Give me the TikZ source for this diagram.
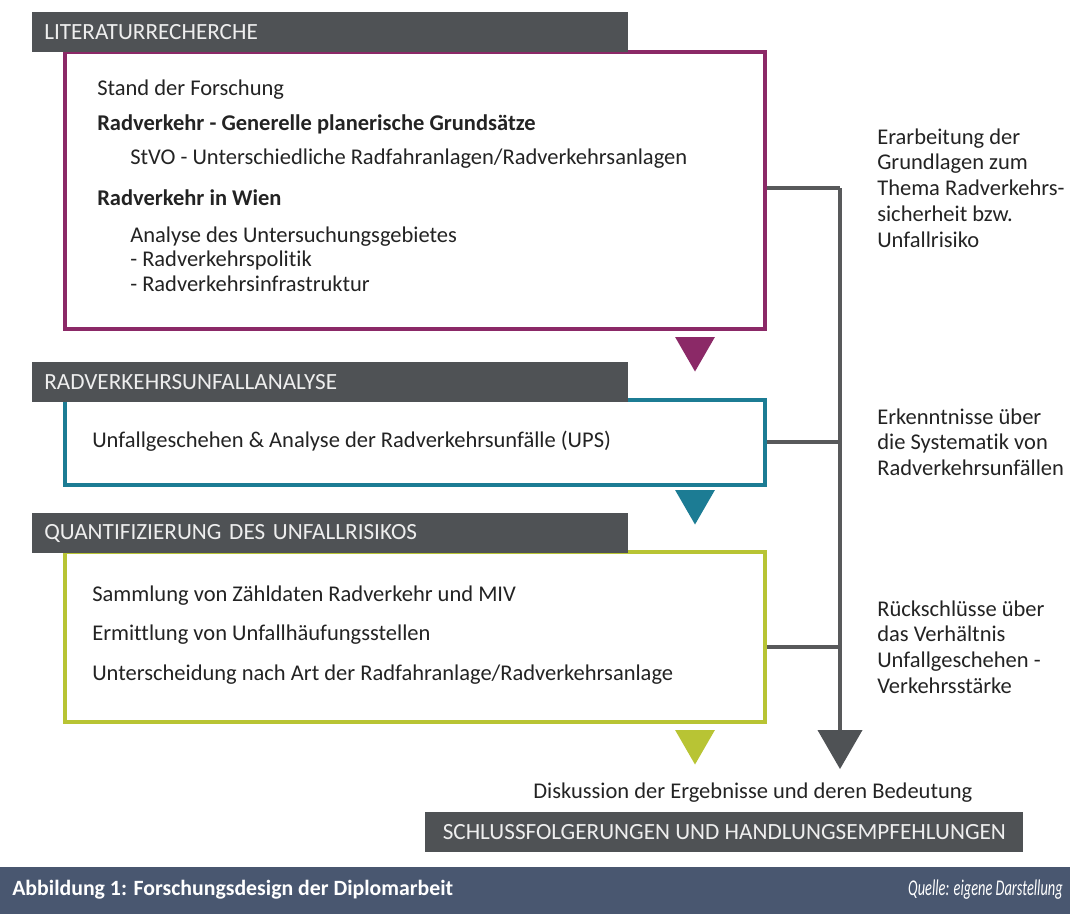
\documentclass[tikz,border=0pt]{standalone}
\usepackage{fontspec}
\setmainfont{Carlito}[Ligatures=NoCommon]
\usetikzlibrary{shapes.geometric}
\definecolor{lila}{RGB}{139,41,103}
\definecolor{petrol}{RGB}{28,124,148}
\definecolor{gelbgruen}{RGB}{184,196,52}
\definecolor{balken}{RGB}{79,82,85}
\definecolor{linie}{RGB}{88,89,91}
\definecolor{fuss}{RGB}{73,87,112}
\definecolor{schrift}{RGB}{35,35,35}
\definecolor{hell}{RGB}{238,238,238}
\begin{document}
\begin{tikzpicture}[x=0.025cm, y=-0.025cm,
    kasten/.style={draw=#1, line width=2.9pt, fill=white, minimum width=17.5cm, anchor=north west, inner sep=0},
    kopf/.style={fill=balken, text=hell, anchor=north west, minimum height=1cm, text width=14.3cm, inner xsep=0.3cm, inner ysep=0, align=left, font=\fontsize{16.5}{19}\selectfont},
    zeile/.style={anchor=base west, inner sep=0, text=schrift, font=\fontsize{16}{18.5}\selectfont},
    fett/.style={zeile, font=\fontsize{16}{18.5}\selectfont\bfseries},
    notiz/.style={anchor=west, inner sep=0, text=schrift, align=left, font=\fontsize{16}{18.3}\selectfont},
    pfeil/.style={regular polygon, regular polygon sides=3, shape border rotate=180, fill=#1, inner sep=0, minimum size=1.15cm},
    ast/.style={draw=linie, line width=2.8pt}]
        \useasboundingbox (0,0) rectangle (1070,914);
        \node[kasten=lila, minimum height=6.925cm] (box1) at (63,50) {};
        \node[kasten=petrol, minimum height=2.125cm] (box2) at (63,398) {};
        \node[kasten=gelbgruen, minimum height=4.25cm] (box3) at (63,550) {};
        \node[kopf] (kopf1) at (32,12) {LITERATURRECHERCHE};
        \node[kopf] (kopf2) at (32,362) {RADVERKEHRSUNFALLANALYSE};
        \node[kopf] (kopf3) at (32,513) {QUANTIFIZIERUNG DES UNFALLRISIKOS};
        \node[zeile] (stand) at (97,95) {Stand der Forschung};
        \node[fett] (grundsaetze) at (97,130) {Radverkehr - Generelle planerische Grundsätze};
        \node[zeile] (stvo) at (130,164) {StVO - Unterschiedliche Radfahranlagen/Radverkehrsanlagen};
        \node[fett] (wien) at (97,205) {Radverkehr in Wien};
        \node[zeile] (analyse) at (130,242) {Analyse des Untersuchungsgebietes};
        \node[zeile] (politik) at (130,266) {- Radverkehrspolitik};
        \node[zeile] (infra) at (130,291) {- Radverkehrsinfrastruktur};
        \node[zeile] (ups) at (92,447) {Unfallgeschehen \& Analyse der Radverkehrsunfälle (UPS)};
        \node[zeile] (zaehl) at (92,601) {Sammlung von Zähldaten Radverkehr und MIV};
        \node[zeile] (uhs) at (92,640) {Ermittlung von Unfallhäufungsstellen};
        \node[zeile] (art) at (92,680) {Unterscheidung nach Art der Radfahranlage/Radverkehrsanlage};
        \node[pfeil=lila] (p1) at (695,348.5) {};
        \node[pfeil=petrol] (p2) at (695,501.5) {};
        \node[pfeil=gelbgruen] (p3) at (695,741.5) {};
        \node[pfeil=balken, minimum size=1.3cm] (p4) at (840,743) {};
        \coordinate (k1) at (840,188);
        \coordinate (k2) at (840,442);
        \coordinate (k3) at (840,647);
        \draw[ast] (k1 -| box1.east) -- (k1);
        \draw[ast] (k2 -| box2.east) -- (k2);
        \draw[ast] (k3 -| box3.east) -- (k3);
        \draw[ast] (k1) -- (p4.north);
        \node[notiz] (erarb) at (877,188) {Erarbeitung der\\Grundlagen zum\\Thema Radverkehrs-\\sicherheit bzw.\\Unfallrisiko};
        \node[notiz] (erkennt) at (877,442) {Erkenntnisse über\\die Systematik von\\Radverkehrsunfällen};
        \node[notiz] (rueck) at (877,647) {Rückschlüsse über\\das Verhältnis\\Unfallgeschehen -\\Verkehrsstärke};
        \node[zeile] (disk) at (533,798) {Diskussion der Ergebnisse und deren Bedeutung};
        \node[fill=balken, text=hell, anchor=north west, minimum width=14.95cm, minimum height=1cm, inner sep=0, font=\fontsize{16.5}{19}\selectfont] (schluss) at (425,812) {SCHLUSSFOLGERUNGEN UND HANDLUNGSEMPFEHLUNGEN};
        \node[fill=fuss, anchor=north west, minimum width=26.75cm, minimum height=1.175cm, inner sep=0] (leiste) at (0,867) {};
        \node[anchor=west, inner sep=0, text=white, font=\fontsize{15.5}{18}\selectfont\bfseries] (titel) at (12,890) {Abbildung 1: Forschungsdesign der Diplomarbeit};
        \node[anchor=east, inner sep=0, text=white, font=\fontsize{16}{18}\selectfont\itshape] (quelle) at (1063,890) {\scalebox{0.64}[1]{Quelle: eigene Darstellung}};
    \end{tikzpicture}
\end{document}
